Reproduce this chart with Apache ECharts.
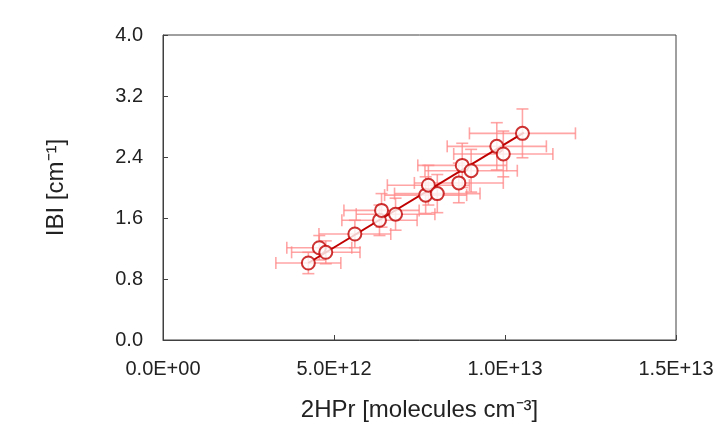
<!DOCTYPE html>
<html>
<head>
<meta charset="utf-8">
<script src="https://cdn.jsdelivr.net/npm/echarts@6/dist/echarts.min.js"></script>
<style>
  html, body { margin: 0; padding: 0; background: #fff; }
  #chart { width: 723px; height: 439px; }
</style>
</head>
<body>
<div id="chart"></div>
<script>
// 2HPr (molecules cm-3) vs IBI (cm-1)
const hprValues = [4.25e12, 4.57e12, 4.76e12, 5.61e12, 6.33e12, 6.39e12, 6.80e12, 7.68e12,
                   7.76e12, 8.02e12, 8.65e12, 8.75e12, 9.01e12, 9.76e12, 9.95e12, 10.51e12];
const ibiValues = [1.01, 1.21, 1.15, 1.39, 1.57, 1.70, 1.65, 1.90,
                   2.03, 1.92, 2.06, 2.29, 2.22, 2.54, 2.44, 2.71];
// error bar half-widths
const hprErrors = [0.95e12, 0.95e12, 1.0e12, 1.05e12, 1.1e12, 1.1e12, 1.15e12, 1.2e12,
                   1.2e12, 1.25e12, 1.3e12, 1.3e12, 1.35e12, 1.45e12, 1.45e12, 1.55e12];
const ibiErrors = [0.14, 0.16, 0.15, 0.18, 0.20, 0.22, 0.21, 0.24,
                   0.26, 0.25, 0.26, 0.29, 0.28, 0.31, 0.30, 0.32];
// regression line end points
const fitX = [4.25e12, 10.55e12];
const fitY = [1.01, 2.72];
// axis ticks
const xTicks = [0, 5e12, 1e13, 1.5e13];
const yTicks = [0, 0.8, 1.6, 2.4, 3.2, 4.0];

const points = hprValues.map((x, i) => [x, ibiValues[i], hprErrors[i], ibiErrors[i]]);
const fitLine = fitX.map((x, i) => [x, fitY[i]]);

function sci(v) {
  if (v === 0) return '0.0E+00';
  let e = Math.floor(Math.log10(v) + 1e-9);
  let m = v / Math.pow(10, e);
  return m.toFixed(1) + 'E+' + (e < 10 ? '0' + e : e);
}

const errColor = 'rgba(255, 135, 135, 0.75)';
const cap = 6;

let myChart = echarts.init(document.getElementById('chart'));
let option = {
  animation: false,
  textStyle: { fontFamily: 'Liberation Sans, Arial, sans-serif' },
  grid: {
    left: 163, right: 47, top: 35, bottom: 99,
    show: true, borderColor: '#404040', borderWidth: 1
  },
  xAxis: {
    type: 'value',
    min: xTicks[0],
    max: xTicks[xTicks.length - 1],
    interval: 5e12,
    name: '2HPr [molecules cm\u207B\u00B3]',
    nameLocation: 'middle',
    nameGap: 58,
    nameTextStyle: { fontSize: 24, color: '#222' },
    axisLine: { lineStyle: { color: '#404040', width: 1 } },
    axisTick: { inside: true, length: 5, lineStyle: { color: '#404040' } },
    axisLabel: { fontSize: 20, color: '#222', margin: 19, formatter: sci },
    splitLine: { show: false }
  },
  yAxis: {
    type: 'value',
    min: yTicks[0],
    max: yTicks[yTicks.length - 1],
    interval: 0.8,
    name: 'IBI [cm\u207B\u00B9]',
    nameLocation: 'middle',
    nameRotate: 90,
    nameGap: 95,
    nameTextStyle: { fontSize: 24, color: '#222' },
    axisLine: { show: true, lineStyle: { color: '#404040', width: 1 } },
    axisTick: { show: true, inside: true, length: 5, lineStyle: { color: '#404040' } },
    axisLabel: { fontSize: 20, color: '#222', margin: 20, formatter: v => v.toFixed(1) },
    splitLine: { show: false }
  },
  series: [
    {
      // error bars
      type: 'custom',
      z: 1,
      data: points,
      renderItem: function (params, api) {
        const x = api.value(0), y = api.value(1);
        const dx = api.value(2), dy = api.value(3);
        const l = api.coord([x - dx, y]);
        const r = api.coord([x + dx, y]);
        const t = api.coord([x, y + dy]);
        const b = api.coord([x, y - dy]);
        const style = { stroke: errColor, lineWidth: 1.6 };
        const seg = (x1, y1, x2, y2) => ({ type: 'line', shape: { x1, y1, x2, y2 }, style });
        return {
          type: 'group',
          children: [
            seg(l[0], l[1], r[0], r[1]),
            seg(l[0], l[1] - cap, l[0], l[1] + cap),
            seg(r[0], r[1] - cap, r[0], r[1] + cap),
            seg(t[0], t[1], b[0], b[1]),
            seg(t[0] - cap, t[1], t[0] + cap, t[1]),
            seg(b[0] - cap, b[1], b[0] + cap, b[1])
          ]
        };
      }
    },
    {
      type: 'line',
      z: 2,
      data: fitLine,
      symbol: 'none',
      lineStyle: { color: '#C00000', width: 2 }
    },
    {
      type: 'scatter',
      z: 3,
      data: points.map(p => [p[0], p[1]]),
      symbol: 'circle',
      symbolSize: 13,
      itemStyle: { color: '#fff', borderColor: '#C00000', borderWidth: 2 }
    }
  ]
};
myChart.setOption(option);
</script>
</body>
</html>
